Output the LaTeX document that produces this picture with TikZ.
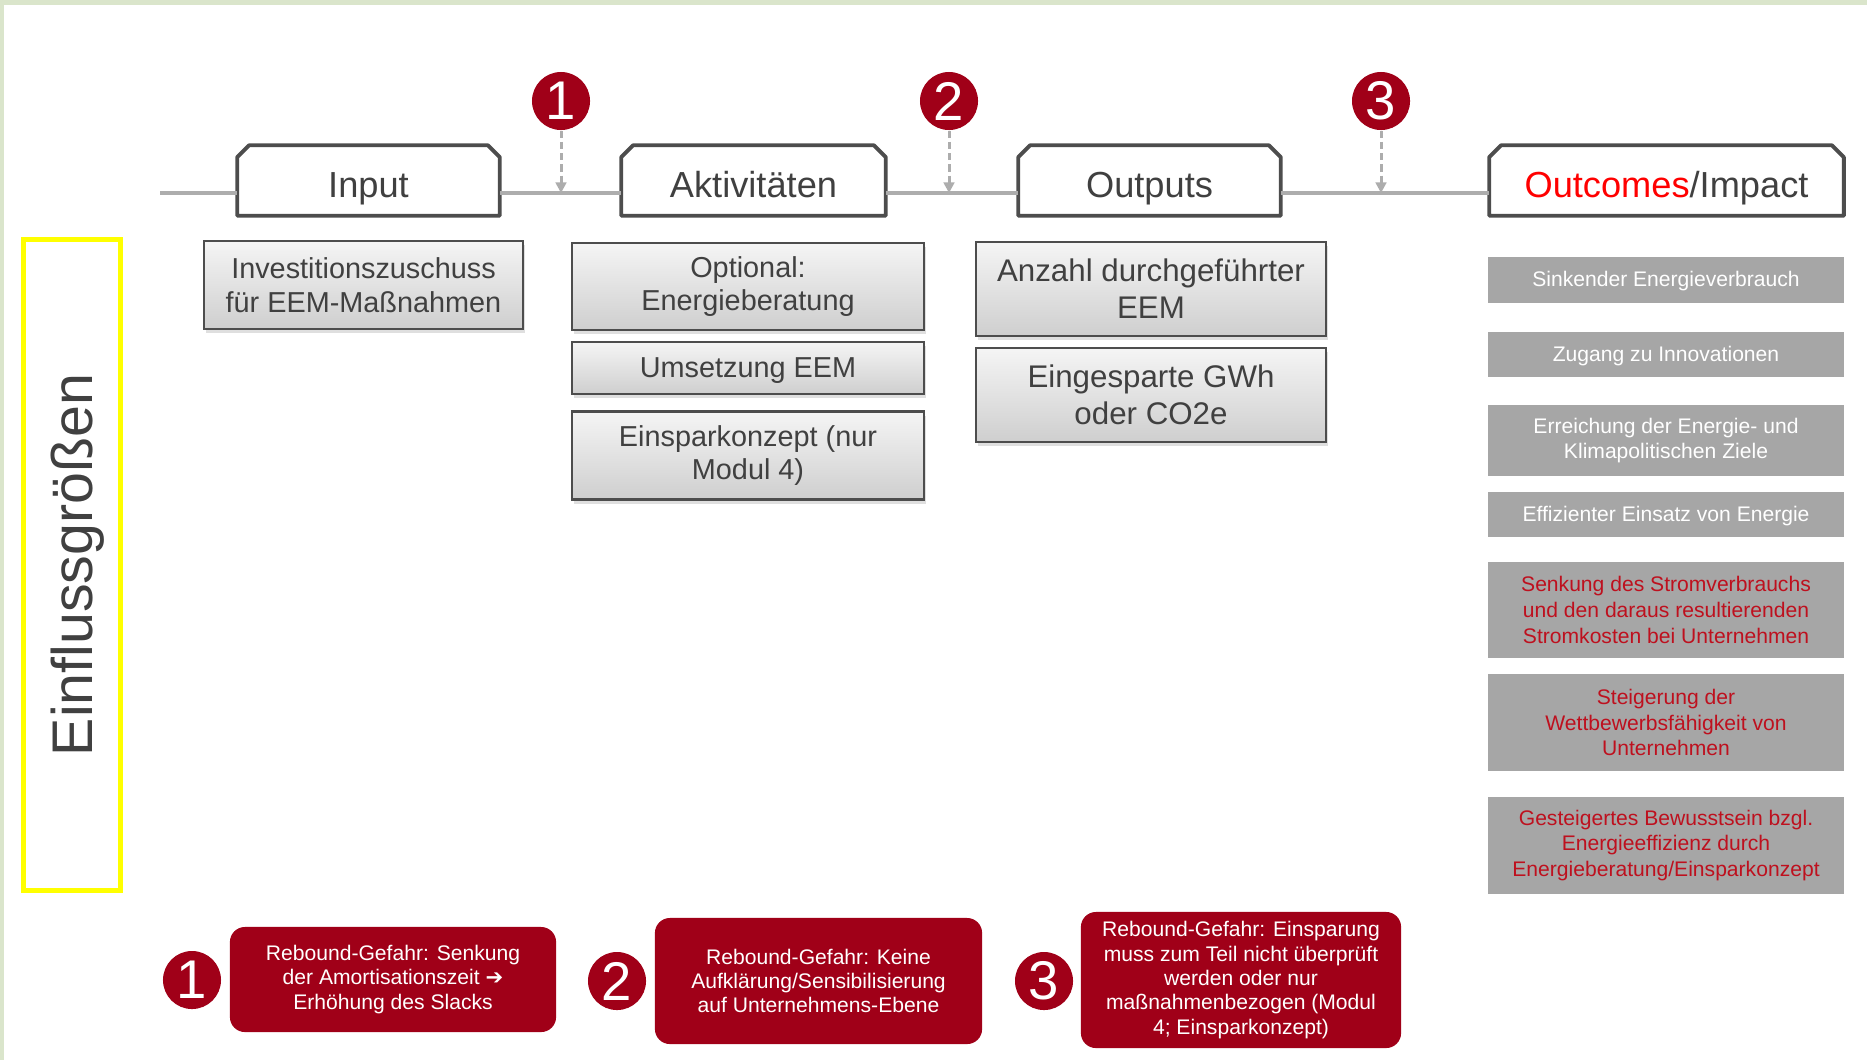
\documentclass[tikz,border=0pt]{standalone}
\usepackage{fontspec}
\setmainfont{Liberation Sans}
\newfontfamily\symfont{DejaVu Sans}
\usepackage{tikz}
\usetikzlibrary{arrows.meta,shapes,positioning,shadows}
\usepackage{xcolor}
\definecolor{rkred}{RGB}{160,0,24}
\definecolor{rktext}{RGB}{64,64,64}
\definecolor{rkframe}{RGB}{77,77,77}
\definecolor{rkgray}{RGB}{166,166,166}
\definecolor{rkline}{RGB}{173,173,173}
\definecolor{rkgreen}{RGB}{218,229,203}
\definecolor{rkyellow}{RGB}{255,255,0}
\definecolor{rkouttext}{RGB}{190,16,30}
\tikzstyle{timeline} = [line width=1.1pt, color=rkline]
\tikzstyle{risk} = [line width=0.85pt, color=rkline, dash pattern=on 2pt off 1.2pt, -{Triangle[width=3pt,length=3pt]}]

\begin{document}
\begin{tikzpicture}[x=0.01cm, y=-0.01cm,
    phase/.style={rectangle, fill=white, minimum width=2.61cm, minimum height=0.69cm, inner sep=0pt, text height=11.9pt, text depth=2.2pt, text=rktext, font=\fontsize{10.3}{12}\selectfont},
    phaseframe/.style={draw=rkframe, line width=1.1pt, line join=round},
    item/.style={rectangle, draw=rkframe, line width=0.6pt, top color=gray!8, bottom color=gray!38, drop shadow={opacity=0.25, shadow xshift=0.6pt, shadow yshift=-1.2pt}, align=center, text=rktext, inner sep=0pt, font=\fontsize{8.2}{9.5}\selectfont},
    effect/.style={rectangle, fill=rkgray, minimum width=3.56cm, align=center, text=white, inner sep=0pt, font=\fontsize{6}{7.3}\selectfont},
    marker/.style={circle, fill=rkred, minimum size=0.58cm, inner sep=0pt, text=white, font=\fontsize{15.5}{16}\selectfont},
    rebound/.style={rectangle, rounded corners=0.15cm, fill=rkred, align=center, text=white, inner sep=0pt, font=\fontsize{6}{6.9}\selectfont},
    factor/.style={rectangle, draw=rkyellow, line width=1.4pt, rotate=90, text height=15.3pt, text depth=3.4pt, text=rktext, font=\fontsize{16.3}{18}\selectfont}]

% Page frame
\useasboundingbox (0,0) rectangle (1867,1060);
\fill[rkgreen] (0,0) rectangle (1867,1060);
\fill[white] (4,5) rectangle (1867,1060);

% Phases
\node[phase] (input) at (368.5,180.5) {Input};
\node[phase, minimum width=2.63cm] (aktiv) at (753.5,180.5) {Aktivitäten};
\node[phase] (outputs) at (1149.5,180.5) {Outputs};
\node[phase, minimum width=3.53cm] (outcomes) at (1666.5,180.5) {\textcolor{red}{Outcomes}/Impact};

\foreach \n in {input,aktiv,outputs,outcomes}
  \draw[phaseframe] (\n.south west) -- ([yshift=-3.4pt]\n.north west) -- ([xshift=3.4pt]\n.north west)
    -- ([xshift=-3.4pt]\n.north east) -- ([yshift=-3.4pt]\n.north east) -- (\n.south east) -- cycle;

% Timeline
\coordinate (tstart) at (160,193);
\draw[timeline] (tstart) -- (tstart -| input.west);
\draw[timeline] (input.east |- tstart) -- (aktiv.west |- tstart);
\draw[timeline] (aktiv.east |- tstart) -- (outputs.west |- tstart);
\draw[timeline] (outputs.east |- tstart) -- (outcomes.west |- tstart);

% Rebound markers
\node[marker] (m1) at (561,101) {1};
\node[marker] (m2) at (949,101) {2};
\node[marker] (m3) at (1381,101) {3};
\draw[risk] (m1) -- (m1 |- tstart);
\draw[risk] (m2) -- (m2 |- tstart);
\draw[risk] (m3) -- (m3 |- tstart);

% Input
\node[item, minimum width=3.19cm, minimum height=0.88cm] (invest) at (363.5,285) {Investitionszuschuss\\für EEM-Maßnahmen};

% Aktivitaeten
\node[item, minimum width=3.52cm, minimum height=0.87cm] (beratung) at (748,286.5) {Optional:\\Energieberatung};
\node[item, minimum width=3.52cm, minimum height=0.52cm, text height=7.1pt, text depth=1.8pt] (umsetzung) at (748,368) {Umsetzung EEM};
\node[item, minimum width=3.52cm, minimum height=0.88cm] (konzept) at (748,455.5) {Einsparkonzept (nur\\Modul 4)};

% Outputs
\node[item, minimum width=3.5cm, minimum height=0.94cm, font=\fontsize{8.9}{10.5}\selectfont] (anzahl) at (1151,289) {Anzahl durchgeführter\\EEM};
\node[item, minimum width=3.5cm, minimum height=0.94cm, font=\fontsize{8.9}{10.5}\selectfont] (gwh) at (1151,395) {Eingesparte GWh\\oder CO2e};

% Outcomes
\node[effect, minimum height=0.46cm, text height=5pt, text depth=1.3pt] (sinken) at (1666,280) {Sinkender Energieverbrauch};
\node[effect, minimum height=0.45cm, text height=5pt, text depth=1.3pt] (zugang) at (1666,354.5) {Zugang zu Innovationen};
\node[effect, minimum height=0.71cm] (ziele) at (1666,440.5) {Erreichung der Energie- und\\Klimapolitischen Ziele};
\node[effect, minimum height=0.45cm, text height=5pt, text depth=1.3pt] (effizienz) at (1666,514.5) {Effizienter Einsatz von Energie};
\node[effect, text=rkouttext, minimum height=0.96cm] (strom) at (1666,610) {Senkung des Stromverbrauchs\\und den daraus resultierenden\\Stromkosten bei Unternehmen};
\node[effect, text=rkouttext, minimum height=0.97cm] (wettbewerb) at (1666,722.5) {Steigerung der\\Wettbewerbsfähigkeit von\\Unternehmen};
\node[effect, text=rkouttext, minimum height=0.97cm] (bewusstsein) at (1666,845.5) {Gesteigertes Bewusstsein bzgl.\\Energieeffizienz durch\\Energieberatung/Einsparkonzept};

% Einflussgroessen
\node[factor, minimum width=6.51cm, minimum height=0.97cm] (einfluss) at (72,565) {Einflussgrößen};

% Rebound risks
\node[marker] (r1) at (192,980) {1};
\node[rebound, minimum width=3.26cm, minimum height=1.05cm] (reb1) at (393,979.5) {Rebound-Gefahr: Senkung\\der Amortisationszeit {\symfont\bfseries ➔}\\Erhöhung des Slacks};
\node[marker] (r2) at (617,981) {2};
\node[rebound, minimum width=3.27cm, minimum height=1.26cm] (reb2) at (818.5,981) {Rebound-Gefahr: Keine\\Aufklärung/Sensibilisierung\\auf Unternehmens-Ebene};
\node[marker] (r3) at (1044,981) {3};
\node[rebound, minimum width=3.2cm, minimum height=1.36cm] (reb3) at (1241,980) {Rebound-Gefahr: Einsparung\\muss zum Teil nicht überprüft\\werden oder nur\\maßnahmenbezogen (Modul\\4; Einsparkonzept)};
\end{tikzpicture}
\end{document}
